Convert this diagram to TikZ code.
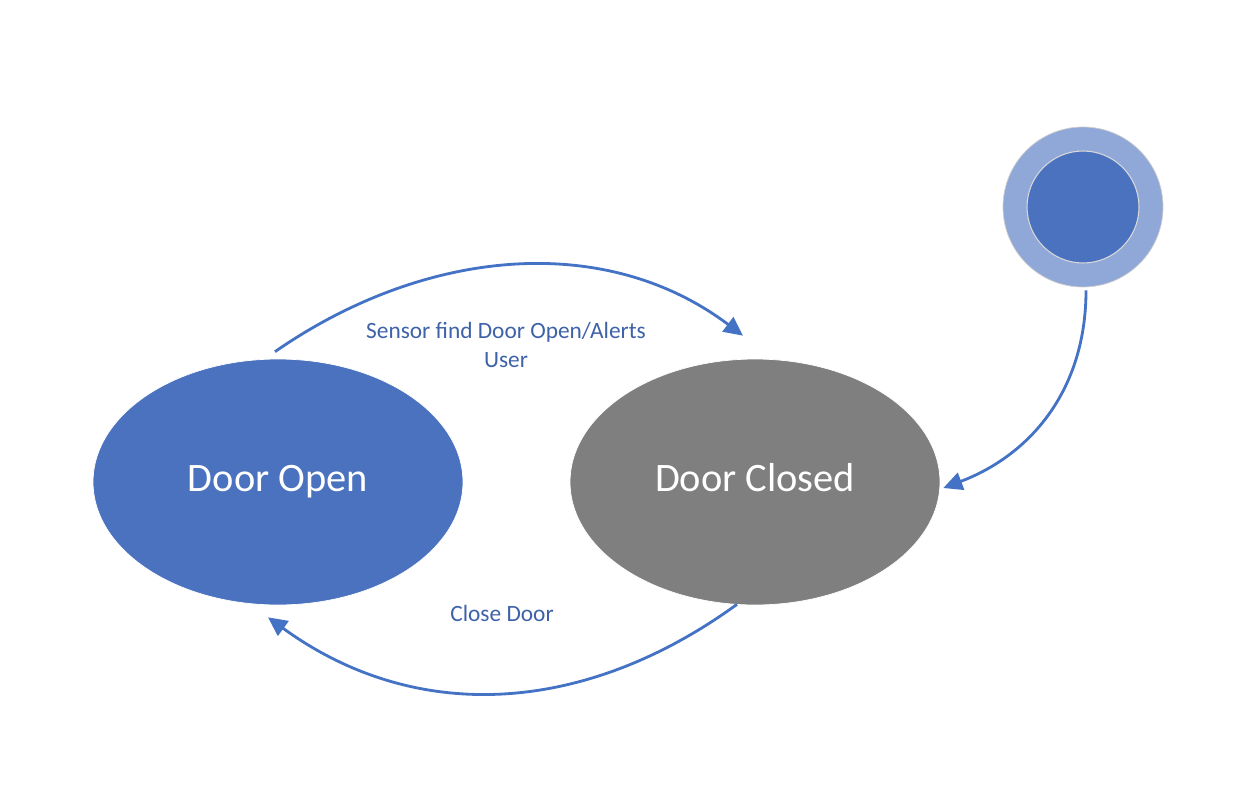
\documentclass[tikz,border=0pt]{standalone}
\usepackage{fontspec}
\setmainfont{Carlito}
\usetikzlibrary{shapes.geometric,arrows.meta,calc}
\definecolor{stblue}{RGB}{74,114,190}
\definecolor{stgray}{RGB}{127,127,127}
\definecolor{lnblue}{RGB}{68,114,196}
\definecolor{txblue}{RGB}{62,98,168}
\definecolor{ringblue}{RGB}{143,168,216}
\tikzset{
  state/.style={ellipse, minimum width=7.4cm, minimum height=4.92cm, inner sep=0pt, draw=white, line width=0.4pt, text=white, font=\fontsize{23}{28}\selectfont, text height=1.05em, text depth=0pt},
  conn/.style={draw=lnblue, line width=1.6pt, -{Triangle[length=0.38cm,width=0.36cm]}},
  lbl/.style={text=txblue, font=\fontsize{13.3}{16}\selectfont, align=center, inner sep=0pt},
}
\begin{document}
\begin{tikzpicture}[x=0.02cm,y=-0.02cm]
\useasboundingbox (0,0) rectangle (1250,804);
\fill[white] (0,0) rectangle (1250,804);
\node[state, fill=stblue] (do) at (278,482) {Door Open};
\node[state, fill=stgray] (dc) at (755,482) {Door Closed};
\node[circle, fill=ringblue, draw=black!20, line width=0.4pt, minimum size=3.2cm, inner sep=0pt] (init) at (1083,207) {};
\node[circle, fill=stblue, draw=black!15, line width=0.6pt, minimum size=2.24cm, inner sep=0pt] (initin) at (init.center) {};
\node[lbl] (l1) at (506,345) {Sensor find Door Open/Alerts\\User};
\node[lbl] (l2) at (502,613) {Close Door};
\coordinate (a0) at ($(do.north)+(-3,-7)$);
\coordinate (a1) at ($(dc.north)+(-12,-23)$);
\coordinate (b0) at ($(dc.south)+(-18,-1)$);
\coordinate (b1) at ($(do.south)+(-10,12)$);
\coordinate (c0) at ($(init.south)+(3,3)$);
\coordinate (c1) at ($(dc.east)+(3,6)$);
\draw[conn] (a0) .. controls ($(a0)+(150,-104)$) and ($(a1)+(-138,-104)$) .. (a1);
\draw[conn] (b0) .. controls ($(b0)+(-150,109)$) and ($(b1)+(150,109)$) .. (b1);
\draw[conn] (c0) .. controls ($(c0)+(0,100)$) and ($(c1)+(87,-33)$) .. (c1);
\end{tikzpicture}
\end{document}
